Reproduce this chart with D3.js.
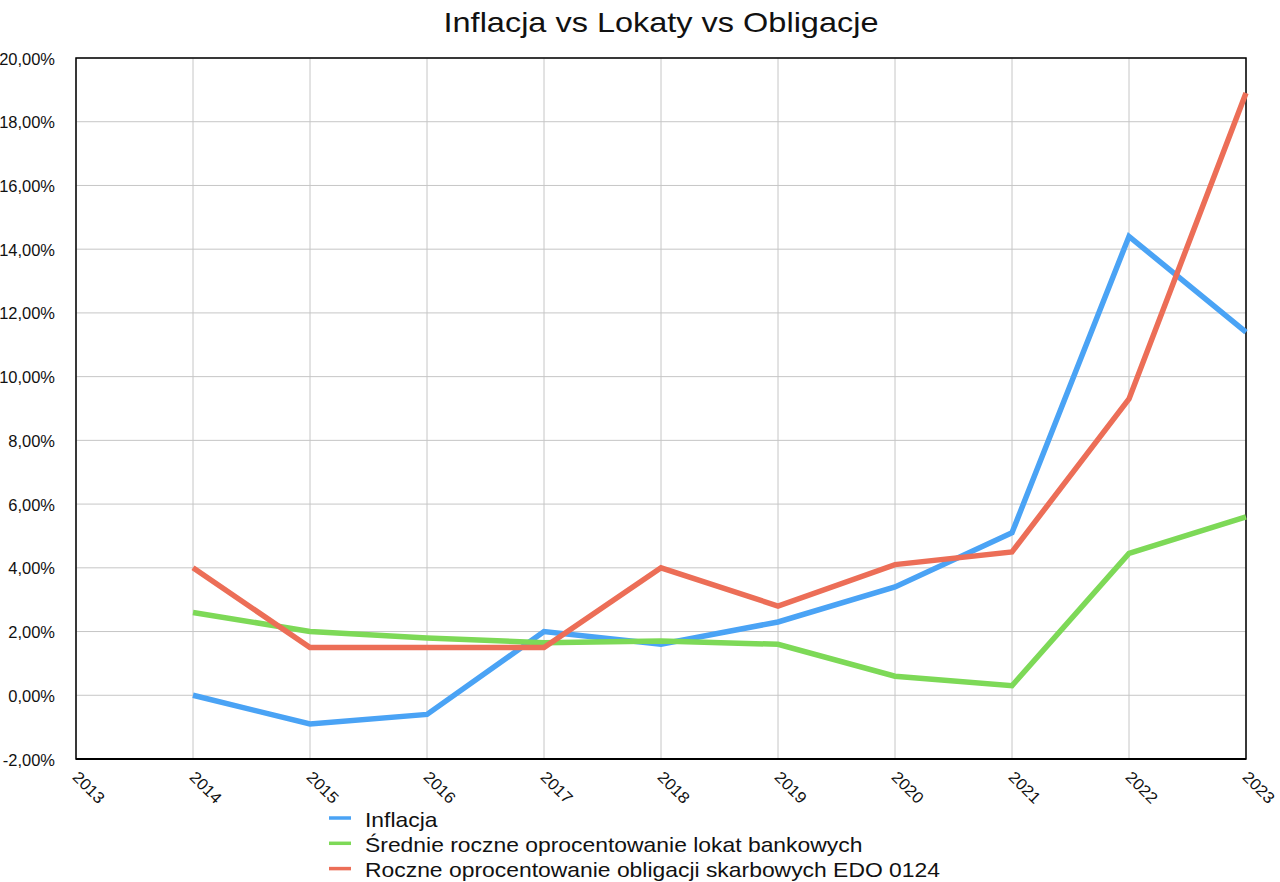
<!DOCTYPE html>
<html>
<head>
  <meta charset="utf-8">
  <title>Inflacja vs Lokaty vs Obligacje</title>
  <style>
    html, body { margin: 0; padding: 0; background: #fff; }
    svg { display: block; font-family: "Liberation Sans", Arial, sans-serif; }
    .grid line { stroke: #c6c6c6; stroke-width: 1px; }
    .axis text { fill: #111; }
  </style>
</head>
<body>
  <div id="chart"></div>
  <script src="https://d3js.org/d3.v7.min.js"></script>
  <script>
    // Data (percent)
    const years = [2013, 2014, 2015, 2016, 2017, 2018, 2019, 2020, 2021, 2022, 2023];
    const dataYears = [2014, 2015, 2016, 2017, 2018, 2019, 2020, 2021, 2022, 2023];
    const inflacja = [0.0, -0.9, -0.6, 2.0, 1.6, 2.3, 3.4, 5.1, 14.4, 11.4];
    const lokaty = [2.6, 2.0, 1.8, 1.65, 1.7, 1.6, 0.6, 0.3, 4.45, 5.6];
    const obligacje = [4.0, 1.5, 1.5, 1.5, 4.0, 2.8, 4.1, 4.5, 9.3, 18.9];
    const yTicks = [-2, 0, 2, 4, 6, 8, 10, 12, 14, 16, 18, 20];
    const seriesNames = [
      "Inflacja",
      "Średnie roczne oprocentowanie lokat bankowych",
      "Roczne oprocentowanie obligacji skarbowych EDO 0124"
    ];
    const seriesColors = ["#4aa3f5", "#7dd957", "#ec6e57"];

    const width = 1280, height = 882;
    const margin = {top: 58, right: 34, bottom: 123, left: 76};

    const svg = d3.select("#chart").append("svg")
      .attr("width", width)
      .attr("height", height);

    const x = d3.scaleLinear()
      .domain([2013, 2023])
      .range([margin.left, width - margin.right]);
    const y = d3.scaleLinear()
      .domain([-2, 20])
      .range([height - margin.bottom, margin.top]);

    // Title (the reference face is a bit wider than Liberation Sans, so stretch it)
    svg.append("text")
      .attr("transform", `translate(${(margin.left + width - margin.right) / 2},32) scale(1.16,1)`)
      .attr("text-anchor", "middle")
      .attr("font-size", "28px")
      .attr("fill", "#111")
      .text("Inflacja vs Lokaty vs Obligacje");

    // Grid
    const grid = svg.append("g").attr("class", "grid");
    grid.selectAll("line.h")
      .data(yTicks)
      .join("line")
      .attr("class", "h")
      .attr("x1", margin.left).attr("x2", width - margin.right)
      .attr("y1", d => y(d)).attr("y2", d => y(d));
    grid.selectAll("line.v")
      .data(years)
      .join("line")
      .attr("class", "v")
      .attr("x1", d => x(d)).attr("x2", d => x(d))
      .attr("y1", margin.top).attr("y2", height - margin.bottom);

    // Frame
    svg.append("rect")
      .attr("x", margin.left)
      .attr("y", margin.top)
      .attr("width", width - margin.left - margin.right)
      .attr("height", height - margin.top - margin.bottom)
      .attr("fill", "none")
      .attr("stroke", "#000")
      .attr("stroke-width", 1.5);
    svg.append("line")
      .attr("x1", margin.left).attr("x2", width - margin.right)
      .attr("y1", y(-2)).attr("y2", y(-2))
      .attr("stroke", "#000").attr("stroke-width", 2.2);

    // Y axis labels
    const fmt = d => d.toFixed(2).replace(".", ",") + "%";
    const yAxis = svg.append("g")
      .attr("class", "axis")
      .attr("transform", `translate(${margin.left},0)`)
      .call(d3.axisLeft(y).tickValues(yTicks).tickFormat(fmt).tickSize(0));
    yAxis.select(".domain").remove();
    yAxis.selectAll("text")
      .attr("font-size", "16px")
      .attr("font-family", "Liberation Sans, Arial, sans-serif")
      .attr("x", 0)
      .attr("dy", "0.38em")
      .attr("transform", "translate(-21,0) scale(1.03,1)");

    // X axis labels (rotated)
    const xAxis = svg.append("g")
      .attr("class", "axis")
      .attr("transform", `translate(0,${height - margin.bottom})`)
      .call(d3.axisBottom(x).tickValues(years).tickFormat(d3.format("d")).tickSize(0));
    xAxis.select(".domain").remove();
    xAxis.selectAll("text")
      .attr("font-size", "16px")
      .attr("font-family", "Liberation Sans, Arial, sans-serif")
      .attr("text-anchor", "start")
      .attr("dy", null)
      .attr("y", 0)
      .attr("transform", "translate(-5,19) rotate(45) scale(1.06,1)");

    // Lines
    const line = d3.line()
      .x((d, i) => x(dataYears[i]))
      .y(d => y(d));
    [inflacja, lokaty, obligacje].forEach((vals, k) => {
      svg.append("path")
        .datum(vals)
        .attr("fill", "none")
        .attr("stroke", seriesColors[k])
        .attr("stroke-width", 5.5)
        .attr("stroke-linejoin", "miter")
        .attr("d", line);
    });

    // Legend
    const legend = svg.append("g").attr("transform", "translate(329,818)");
    seriesNames.forEach((name, k) => {
      const row = legend.append("g").attr("transform", `translate(0,${k * 25.3})`);
      row.append("line")
        .attr("x1", 0).attr("x2", 22)
        .attr("y1", 0).attr("y2", 0)
        .attr("stroke", seriesColors[k])
        .attr("stroke-width", 3.5);
      row.append("text")
        .attr("transform", "translate(36,8.5) scale(1.145,1)")
        .attr("font-size", "20px")
        .attr("fill", "#111")
        .text(name);
    });
  </script>
</body>
</html>
